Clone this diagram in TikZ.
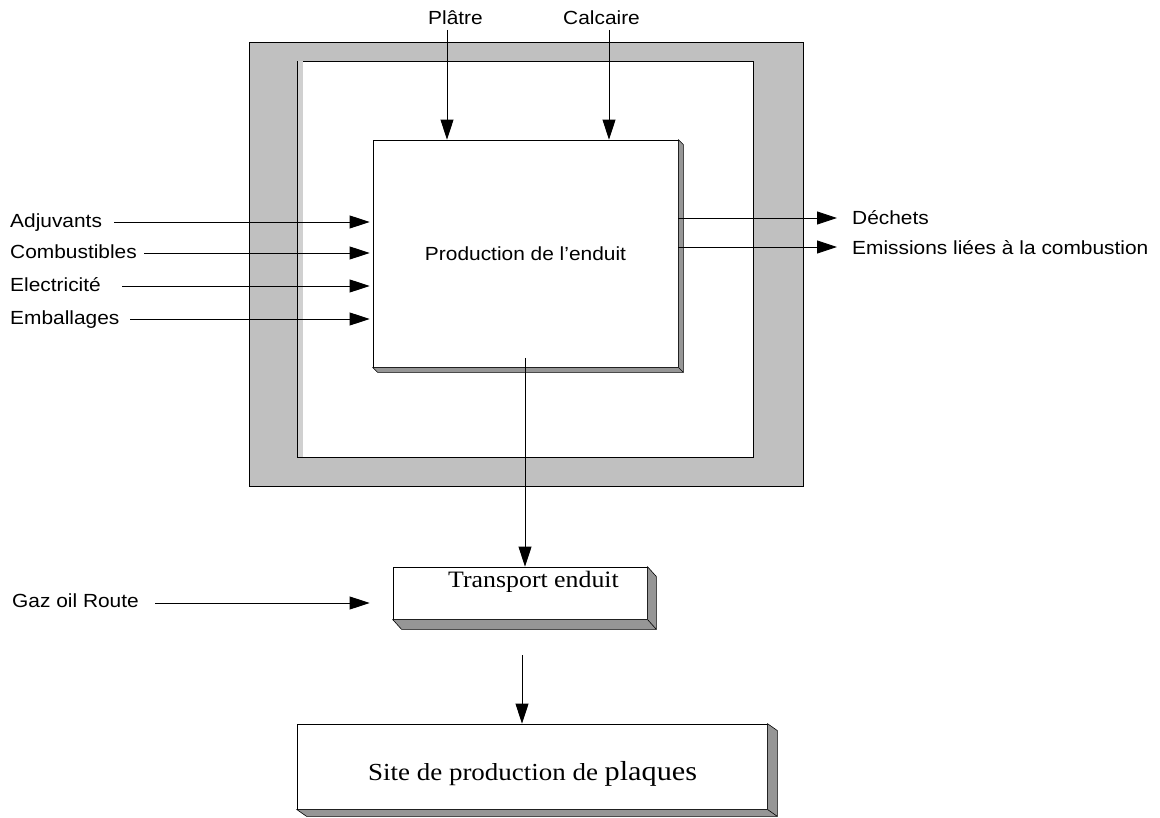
\documentclass[tikz,border=0pt]{standalone}
\usepackage{fontspec}
\setmainfont{Liberation Sans}[FakeStretch=1.1]
\newfontfamily\timesfont{Liberation Serif}[FakeStretch=1.1]
\usepackage{tikz}
\usetikzlibrary{arrows.meta}
\definecolor{framegrey}{RGB}{192,192,192}
\definecolor{rimgrey}{RGB}{208,208,208}
\definecolor{slabgrey}{RGB}{150,150,150}

\begin{document}
\begin{tikzpicture}
        [%%%%%%%%%%%%%%%%%%%%%%%%%%%%%%
        x=1pt, y=-1pt,
        font=\fontsize{19}{22}\selectfont,
        box/.style={draw=black, fill=white, line width=0.8pt, inner sep=0pt},
        slab/.style={draw=black, fill=slabgrey, line width=0.6pt, line join=round},
        flow/.style={line width=0.9pt, -{Triangle[length=20pt,width=13pt]}},
        sans/.style={inner sep=0pt, anchor=base west},
        serif/.style={font=\timesfont\fontsize{23.5}{26}\selectfont, inner sep=0pt, anchor=base west},
        ]%%%%%%%%%%%%%%%%%%%%%%%%%%%%%%
        \useasboundingbox (0,0) rectangle (1160,818);
        % Frame
        \draw[fill=framegrey, line width=0.8pt] (249,42) rectangle (803,486);
        \draw[fill=white, line width=0.8pt] (297,61) rectangle (753,457);
        \fill[rimgrey] (297.5,61.5) rectangle (303,456.5);
        % Boxes
        \node[box, minimum width=305pt, minimum height=227pt] (prod) at (525.5,253.5) {Production de l’enduit};
        \node[box, minimum width=254pt, minimum height=52pt] (transport) at (520,593) {};
        \node[box, minimum width=470pt, minimum height=85pt] (site) at (532,766.5) {};
        \foreach \b/\dx/\dy in {prod/5/5, transport/9/10, site/10/7}{
          % shadow of each box
          \draw[slab] (\b.north east) -- ([shift={(\dx,\dy)}]\b.north east)
            -- ([shift={(\dx,\dy)}]\b.south east) -- ([shift={(\dx,\dy)}]\b.south west)
            -- (\b.south west) -- (\b.south east) -- cycle;
          \draw[slab] (\b.south east) -- ([shift={(\dx,\dy)}]\b.south east);
        }
        \node[serif] (transport-txt) at (448,587) {Transport enduit};
        \node[serif, font=\timesfont\fontsize{24.5}{28}\selectfont] (site-txt) at (368,780)
          {Site de production de {\fontsize{27.5}{30}\selectfont plaques}};
        % Inputs from the top
        \node[sans] (platre) at (428,25) {Plâtre};
        \node[sans] (calc) at (563,25) {Calcaire};
        \coordinate (platre-s) at (447,30);
        \coordinate (calc-s) at (609,30);
        \draw[flow] (platre-s) -- (platre-s |- prod.north);
        \draw[flow] (calc-s) -- (calc-s |- prod.north);
        % Inputs from the left
        \foreach \n/\t/\ly/\sx in {adj/Adjuvants/222/114, comb/Combustibles/253/144,
                                   elec/Electricité/286/122, emb/Emballages/319/130}{
          \node[sans] (\n) at (10,\ly+6) {\t};
          \coordinate (\n-s) at (\sx,\ly);
          \draw[flow, shorten >=3pt] (\n-s) -- (\n-s -| prod.west);
        }
        % Outputs to the right
        \node[sans] (dech) at (852,225) {Déchets};
        \node[sans] (emis) at (852,255) {Emissions liées à la combustion};
        \coordinate (dech-e) at (837,218);
        \coordinate (emis-e) at (837,247);
        \draw[flow] (dech-e -| prod.east) -- (dech-e);
        \draw[flow] (emis-e -| prod.east) -- (emis-e);
        % Transport
        \node[sans] (gaz) at (12,607) {Gaz oil Route};
        \coordinate (gaz-s) at (155,603);
        \draw[flow, shorten >=23pt] (gaz-s) -- (gaz-s -| transport.west);
        \coordinate (out-s) at (525,358);
        \draw[flow] (out-s) -- (out-s |- transport.north);
        \coordinate (ship-s) at (522,655);
        \draw[flow] (ship-s) -- (ship-s |- site.north);
\end{tikzpicture}
\end{document}
